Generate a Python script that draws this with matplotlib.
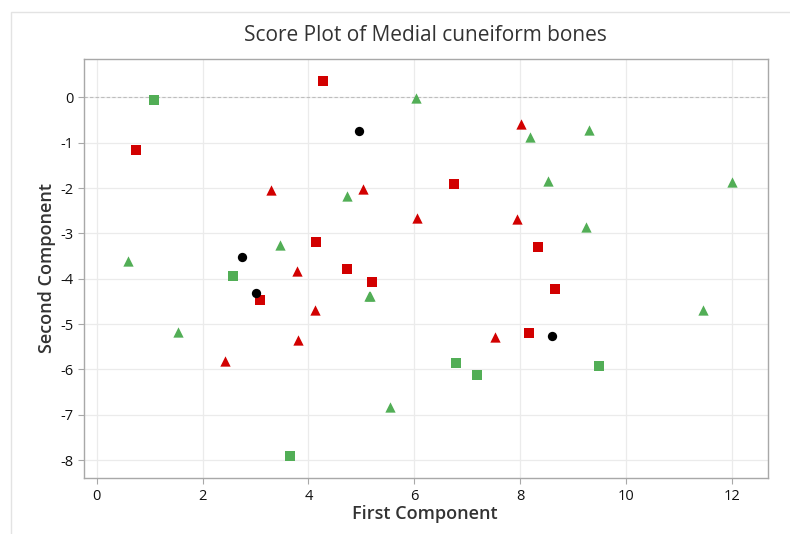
import matplotlib
matplotlib.use("Agg")
import matplotlib.pyplot as plt
from matplotlib.patches import Rectangle

plt.rcParams['font.family'] = ['Open Sans', 'DejaVu Sans']
plt.rcParams['axes.unicode_minus'] = False

# Data
green_sq_x = [1.078, 2.58, 3.65, 6.79, 7.19, 9.48]
green_sq_y = [-0.05, -3.94, -7.90, -5.86, -6.13, -5.92]

red_sq_x = [4.28, 0.738, 6.75, 4.15, 4.72, 5.20, 3.09, 8.33, 8.65, 8.16]
red_sq_y = [0.353, -1.156, -1.91, -3.18, -3.79, -4.07, -4.47, -3.30, -4.23, -5.19]

red_tri_x = [3.29, 5.03, 6.05, 8.02, 7.94, 3.78, 4.12, 3.80, 2.43, 7.52]
red_tri_y = [-2.04, -2.02, -2.65, -0.59, -2.68, -3.82, -4.68, -5.36, -5.81, -5.29]

green_tri_x = [6.02, 8.18, 9.30, 4.73, 8.52, 11.99, 9.24, 3.47, 0.587, 1.53, 5.15, 5.17, 5.53, 11.44]
green_tri_y = [-0.02, -0.88, -0.73, -2.17, -1.85, -1.86, -2.87, -3.26, -3.60, -5.17, -4.37, -4.39, -6.83, -4.68]

black_x = [4.96, 2.74, 3.01, 8.60]
black_y = [-0.74, -3.52, -4.32, -5.26]

x_ticks = [0, 2, 4, 6, 8, 10, 12]
y_ticks = [0, -1, -2, -3, -4, -5, -6, -7, -8]

title = "Score Plot of Medial cuneiform bones"
xlabel = "First Component"
ylabel = "Second Component"

RED = '#D20000'
GREEN = '#52AE56'

fig = plt.figure(figsize=(7.9, 5.34), dpi=100)
fig.patches.append(Rectangle((11 / 790, -0.01), 1.0, 1 - 12 / 534 + 0.01,
                             transform=fig.transFigure, fill=False,
                             edgecolor='#E3E3E3', linewidth=1.0, zorder=0))
ax = fig.add_axes([84 / 790, 1 - 478.3 / 534, (768.3 - 84) / 790, (478.3 - 59) / 534])

ax.set_xlim(-0.238, 12.68)
ax.set_ylim(-8.40, 0.845)
ax.set_xticks(x_ticks)
ax.set_yticks(y_ticks)
ax.grid(True, color='#EBEBEB', linewidth=0.9, zorder=0)
ax.set_axisbelow(True)
ax.axhline(0, color='#BDBDBD', linestyle=(0, (3, 2)), linewidth=0.8, zorder=1)

ax.scatter(green_sq_x, green_sq_y, marker='s', s=42, color=GREEN, zorder=3, linewidths=0)
ax.scatter(red_sq_x, red_sq_y, marker='s', s=42, color=RED, zorder=3, linewidths=0)
ax.scatter(red_tri_x, red_tri_y, marker='^', s=55, color=RED, zorder=3, linewidths=0)
ax.scatter(green_tri_x, green_tri_y, marker='^', s=55, color=GREEN, zorder=3, linewidths=0)
ax.scatter(black_x, black_y, marker='o', s=45, color='black', zorder=3, linewidths=0)

for sp in ax.spines.values():
    sp.set_color('#A8A8A8')
    sp.set_linewidth(1.0)
ax.tick_params(axis='both', colors='#A8A8A8', labelcolor='#111111', labelsize=10.5,
               length=4, width=0.8)

fig.text(425 / 790, 1 - 36 / 534, title, ha='center', va='center', fontsize=15,
         fontweight='medium', color='#333333')
fig.text(425 / 790, 1 - 514 / 534, xlabel, ha='center', va='center', fontsize=13,
         fontweight='semibold', color='#333333')
fig.text(47 / 790, 1 - 268 / 534, ylabel, ha='center', va='center', fontsize=13,
         fontweight='semibold', color='#333333', rotation=90)

fig.savefig('out.png', dpi=100)
